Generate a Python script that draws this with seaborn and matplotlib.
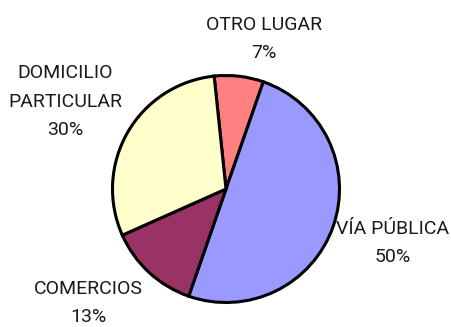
import matplotlib
matplotlib.use("Agg")
import matplotlib.pyplot as plt
import seaborn as sns

# Lugar del hecho (porcentaje)
categories = ["OTRO LUGAR", "VÍA PÚBLICA", "COMERCIOS", "DOMICILIO\nPARTICULAR"]
percentages = [7, 50, 13, 30]
colors = ["#FF8080", "#9999FF", "#993366", "#FFFFCC"]

sns.set_theme(style="white")
plt.rcParams["font.family"] = ["Roboto", "DejaVu Sans"]

W, H = 452, 327
fig = plt.figure(figsize=(W / 100, H / 100), dpi=100)
cx, cy, r = 226, 189, 113.5
ax = fig.add_axes([(cx - r) / W, (H - cy - r) / H, 2 * r / W, 2 * r / H])

wedges, _ = ax.pie(
    percentages,
    colors=sns.color_palette(colors),
    startangle=96,
    counterclock=False,
    radius=1,
    wedgeprops=dict(edgecolor="black", linewidth=2.2),
)
ax.set_xlim(-1, 1)
ax.set_ylim(-1, 1)
ax.set_aspect("equal")
ax.axis("off")

# label anchor points, in pie radius units
label_pos = {
    "OTRO LUGAR": (0.335, 1.32),
    "VÍA PÚBLICA": (1.471, -0.476),
    "COMERCIOS": (-1.216, -1.005),
    "DOMICILIO\nPARTICULAR": (-1.419, 0.767),
}
for cat, pct in zip(categories, percentages):
    x, y = label_pos[cat]
    ax.text(x, y, f"{cat}\n{pct}%", ha="center", va="center", fontsize=14,
            linespacing=1.75, color="#1a1a1a", clip_on=False)

fig.savefig("out.png", dpi=100)
